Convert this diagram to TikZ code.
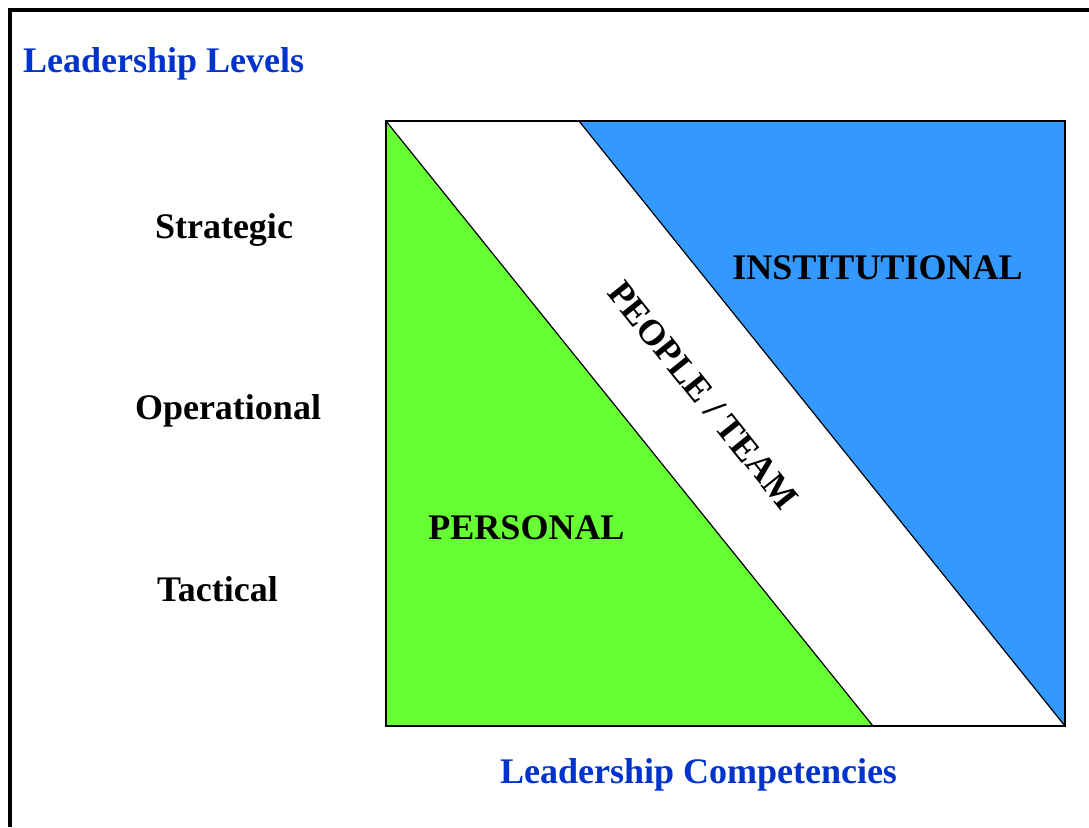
\documentclass[tikz,border=0pt]{standalone}
\usepackage{fontspec}
\setmainfont{Liberation Serif}
\definecolor{persgreen}{HTML}{66FF33}
\definecolor{instblue}{HTML}{3399FF}
\definecolor{titleblue}{HTML}{0033CC}
\begin{document}
\begin{tikzpicture}[x=1pt,y=-1pt,
  lbl/.style={font=\fontsize{36}{40}\selectfont\bfseries, inner sep=0pt},
  ttl/.style={lbl, text=titleblue},
  edge/.style={draw=black, line width=1.2pt}]
\useasboundingbox (0,0) rectangle (1089,827);
% frame
\draw[line width=4pt] (10,827) -- (10,10) -- (1089,10);
% corners of the square
\coordinate (tl) at (386,121);
\coordinate (tr) at (1065,121);
\coordinate (br) at (1065,726);
\coordinate (bl) at (386,726);
\coordinate (gb) at (873,726);
\coordinate (bt) at (579,121);
% regions
\fill[white] (tl) -- (tr) -- (br) -- (bl) -- cycle;
\fill[persgreen] (tl) -- (gb) -- (bl) -- cycle;
\fill[instblue] (bt) -- (tr) -- (br) -- cycle;
\draw[edge] (tl) -- (gb);
\draw[edge] (bt) -- (br);
\draw[edge] (tl) -- (tr) -- (br) -- (bl) -- cycle;
% labels
\node[ttl, anchor=base west] (levels) at (23,72) {Leadership Levels};
\node[lbl, anchor=base] (strat) at (224,238) {Strategic};
\node[lbl, anchor=base] (oper) at (228,419) {Operational};
\node[lbl, anchor=base] (tact) at (217.5,601) {Tactical};
\node[lbl, anchor=base] (pers) at (526.5,539) {PERSONAL};
\node[lbl, anchor=base] (inst) at (877.5,279) {INSTITUTIONAL};
\node[lbl, rotate=-51.2] (team) at (703,395) {PEOPLE / TEAM};
\node[ttl, anchor=base] (comp) at (698.5,783) {Leadership Competencies};
\end{tikzpicture}
\end{document}
